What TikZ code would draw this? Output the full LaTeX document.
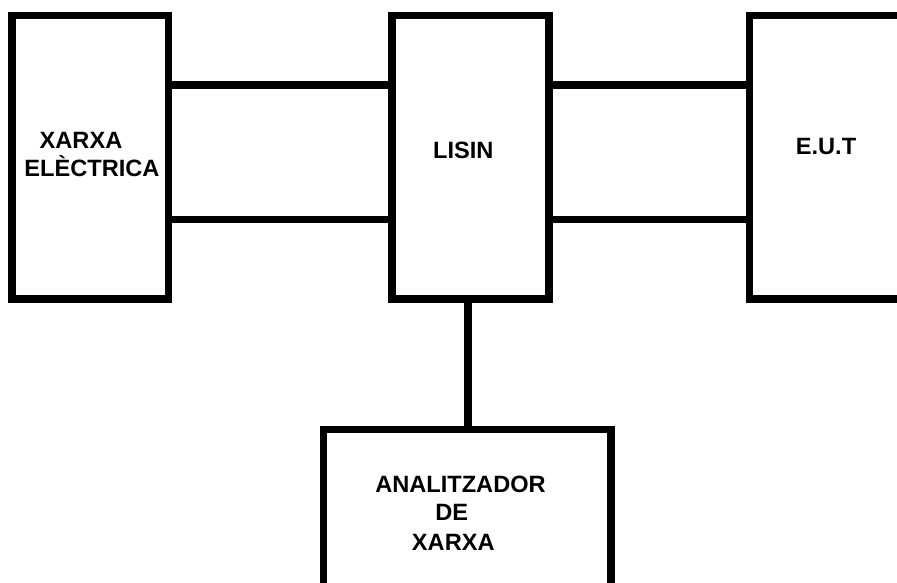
\documentclass[tikz,border=0pt]{standalone}
\usepackage{fontspec}
\setmainfont{Liberation Sans}
\begin{document}
\begin{tikzpicture}[x=1pt,y=-1pt,
  blk/.style={draw=black,line width=7.5pt,fill=white,rectangle,inner sep=0pt,outer sep=0pt},
  wire/.style={draw=black,line width=7.5pt},
  lbl/.style={inner sep=0pt,anchor=base,font=\fontsize{23.6}{27}\selectfont\bfseries}]
\clip (0,0) rectangle (897,583);
\fill[white] (0,0) rectangle (897,583);
% blocks
\node[blk,minimum width=156.5pt,minimum height=283.7pt] (b1) at (90.25,157.15) {};
\node[blk,minimum width=157pt,minimum height=283.5pt] (b2) at (470.5,157.25) {};
\node[blk,minimum width=220pt,minimum height=283.5pt] (b3) at (859.7,157.25) {};
\node[blk,minimum width=287.7pt,minimum height=240pt] (b4) at (467.15,549.7) {};
% connector guides
\coordinate (h1) at (0,85);
\coordinate (h2) at (0,219.6);
\coordinate (v1) at (468,0);
\draw[wire] (b1.east |- h1) -- (b2.west |- h1);
\draw[wire] (b1.east |- h2) -- (b2.west |- h2);
\draw[wire] (b2.east |- h1) -- (b3.west |- h1);
\draw[wire] (b2.east |- h2) -- (b3.west |- h2);
\draw[wire] (b2.south -| v1) -- (b4.north -| v1);
% labels
\node[lbl] (t1a) at (81,148.3) {XARXA};
\node[lbl] (t1b) at (92,176.7) {ELÈCTRICA};
\node[lbl] (t2) at (463.3,158.3) {LISIN};
\node[lbl] (t3) at (826,154) {E.U.T};
\node[lbl] (t4a) at (460.5,492.7) {ANALITZADOR};
\node[lbl] (t4b) at (451.7,520.7) {DE};
\node[lbl] (t4c) at (453.3,550) {XARXA};
\end{tikzpicture}
\end{document}
